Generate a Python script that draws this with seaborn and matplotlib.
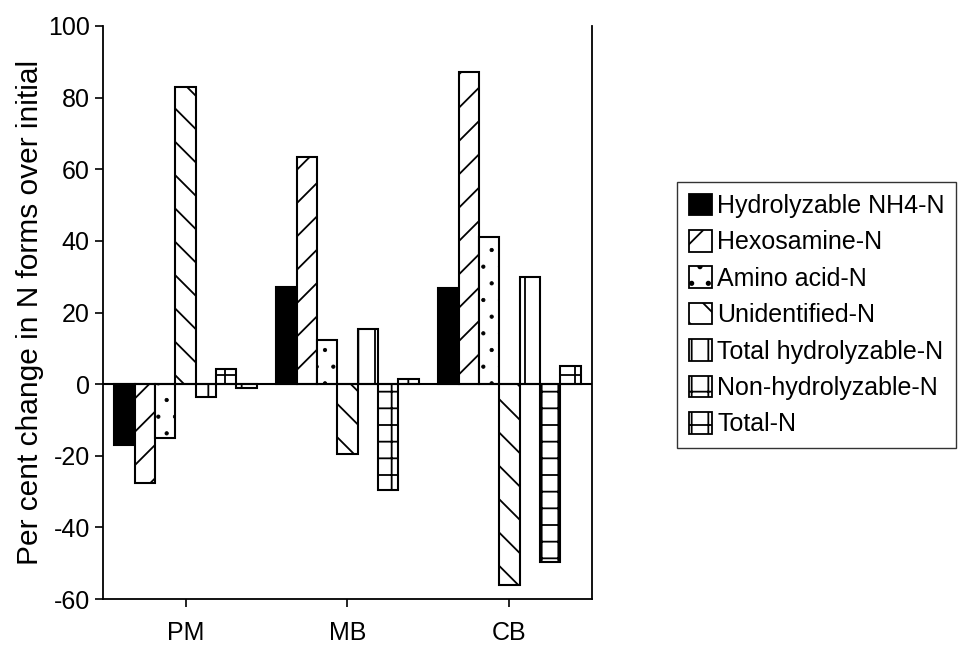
import pandas as pd
import matplotlib.pyplot as plt
import seaborn as sns
from matplotlib.patches import Patch

# datos (cambio % sobre el inicial)
sites = ['PM', 'MB', 'CB']
forms = ['Hydrolyzable NH4-N', 'Hexosamine-N', 'Amino acid-N', 'Unidentified-N',
         'Total hydrolyzable-N', 'Non-hydrolyzable-N', 'Total-N']
nh4 = [-17.0, 27.0, 26.8]
hexosamine = [-27.5, 63.5, 87.0]
amino = [-15.0, 12.3, 41.0]
unidentified = [83.0, -19.5, -56.0]
total_hydro = [-3.5, 15.4, 30.0]
non_hydro = [4.2, -29.5, -49.7]
total_n = [-1.2, 1.4, 5.0]

values = [nh4, hexosamine, amino, unidentified, total_hydro, non_hydro, total_n]
rows = []
for form, vals in zip(forms, values):
    for site, v in zip(sites, vals):
        rows.append({'site': site, 'form': form, 'value': v})
df = pd.DataFrame(rows)

# relleno de cada serie
fills = ['black', 'white', 'white', 'white', 'white', 'white', 'white']
hatches = ['', '/', '.', '\\', '|', '+', '+']

sns.set_style('ticks')
plt.rcParams['font.family'] = ['Liberation Sans', 'DejaVu Sans']
plt.rcParams['hatch.linewidth'] = 1.3
plt.rcParams['axes.unicode_minus'] = False
for k in ['text.color', 'axes.labelcolor', 'xtick.color', 'ytick.color', 'axes.edgecolor']:
    plt.rcParams[k] = 'black'

fig = plt.figure(figsize=(9.72, 6.47), dpi=100)
ax = fig.add_axes([0.106, 0.074, 0.503, 0.886])

sns.barplot(data=df, x='site', y='value', hue='form', hue_order=forms,
            order=sites, width=0.88, ax=ax, legend=False,
            palette=['white'] * len(forms), edgecolor='black', linewidth=1.5)

for cont, fc, h in zip(ax.containers, fills, hatches):
    for bar in cont:
        bar.set_facecolor(fc)
        bar.set_hatch(h)
        if h == '.' and hasattr(bar, 'set_hatch_linewidth'):
            bar.set_hatch_linewidth(0.6)

ax.axhline(0, color='black', linewidth=1.5, zorder=5)
ax.set_xlim(-0.51, 2.51)
ax.set_ylim(-60, 100)
ax.set_yticks(range(-60, 101, 20))
ax.set_xlabel('')
ax.set_ylabel('Per cent change in N forms over initial', fontsize=21.5, labelpad=3)
ax.tick_params(labelsize=18, width=1.2, length=6, direction='out')
ax.tick_params(axis='x', pad=10)
ax.spines['top'].set_visible(False)
for s in ['left', 'bottom', 'right']:
    ax.spines[s].set_linewidth(1.3)

handles = [Patch(facecolor=fc, edgecolor='black', hatch=h, linewidth=1.3)
           for fc, h in zip(fills, hatches)]
fig.legend(handles, forms, loc='upper left', bbox_to_anchor=(0.697, 0.718),
           fontsize=18, frameon=True, fancybox=False, edgecolor='black',
           handlelength=0.95, handleheight=0.95, handletextpad=0.2,
           labelspacing=0.48, borderpad=0.45, borderaxespad=0)

plt.savefig('out.png', dpi=100)
